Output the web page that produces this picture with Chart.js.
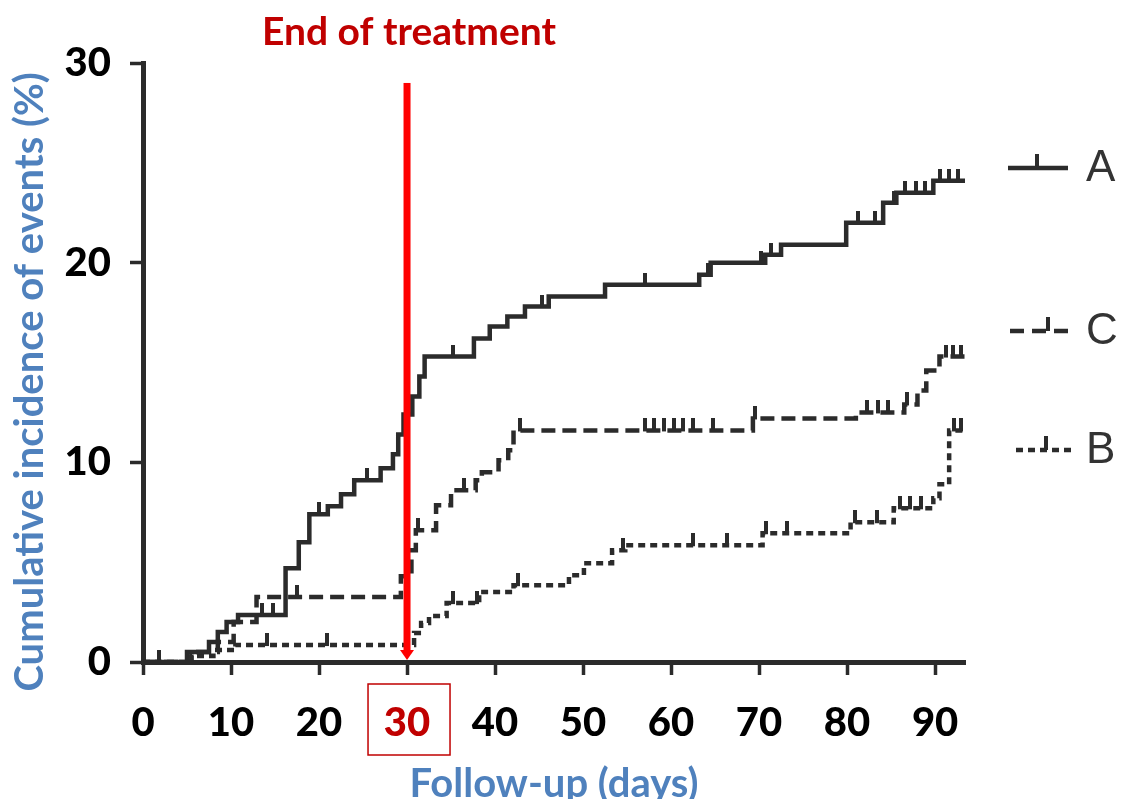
<!DOCTYPE html>
<html>
<head>
<meta charset="utf-8">
<script src="https://cdn.jsdelivr.net/npm/chart.js@4.4.1/dist/chart.umd.min.js"></script>
<style>
  html, body { margin: 0; padding: 0; background: #fff; }
  #myChart { display: block; }
</style>
</head>
<body>
<canvas id="myChart" width="1122" height="799"></canvas>
<script>
// Curva A (step: valor desde ese dia)
const aDays   = [0, 5.0, 7.5, 8.5, 9.5, 10.8, 16.2, 17.7, 18.9, 21.0, 22.5, 24.0, 27.0, 28.4, 29.0, 29.6, 30.6, 31.4, 32.0, 37.6, 39.4, 41.4, 43.4, 46.1, 52.5, 63.2, 64.5, 70.7, 72.5, 79.9, 84.1, 85.6, 89.8, 93.4];
const aValues = [0, 0.5, 1.0, 1.5, 2.0, 2.35, 4.7, 6.0, 7.4, 7.8, 8.4, 9.1, 9.7, 10.4, 11.4, 12.4, 13.3, 14.3, 15.3, 16.2, 16.8, 17.3, 17.8, 18.3, 18.9, 19.4, 20.0, 20.4, 20.9, 22.0, 23.0, 23.5, 24.1, 24.1];
const aCensored = [13.5, 14.8, 20.0, 25.5, 35.2, 45.3, 57.0, 64.2, 70.2, 71.3, 81.2, 83.2, 85.3, 86.6, 87.8, 88.9, 90.6, 91.6, 92.6];

// Curva C
const cDays   = [0, 5.5, 8.5, 10.3, 12.9, 29.3, 30.5, 31.0, 33.3, 35.0, 37.8, 38.5, 40.4, 41.5, 42.1, 69.3, 81.0, 86.5, 88.0, 89.0, 90.5, 93.4];
const cValues = [0, 0.5, 1.0, 2.0, 3.25, 4.3, 5.6, 6.6, 7.85, 8.6, 9.1, 9.5, 10.1, 10.6, 11.6, 12.2, 12.5, 12.9, 13.6, 14.6, 15.3, 15.3];
const cCensored = [17.5, 31.2, 36.5, 42.8, 57.0, 58.1, 59.2, 60.3, 61.4, 62.5, 64.8, 69.5, 82.3, 83.5, 84.6, 86.8, 91.2, 92.0, 93.0];

// Curva B
const bDays   = [0, 5.5, 8.0, 10.5, 30.8, 31.6, 32.5, 34.5, 38.2, 42.1, 48.4, 50.1, 53.3, 54.8, 70.4, 80.4, 85.3, 89.8, 90.5, 91.6, 93.4];
const bValues = [0, 0.3, 0.6, 0.85, 1.45, 1.95, 2.3, 2.95, 3.5, 3.85, 4.35, 4.95, 5.6, 5.85, 6.45, 7.0, 7.7, 8.2, 8.9, 11.6, 11.6];
const bCensored = [1.8, 14.1, 20.9, 35.2, 38.0, 42.6, 54.5, 62.5, 66.4, 70.8, 73.2, 80.9, 83.4, 86.0, 87.1, 88.4, 92.1, 92.9];

const xTicks = [0, 10, 20, 30, 40, 50, 60, 70, 80, 90];
const yTicks = [0, 10, 20, 30];
const treatmentEndDay = 30;
const seriesLabels = ['A', 'C', 'B'];

const ink = '#2b2b2b';
const fontMain = 'Lato, "Open Sans", sans-serif';

function points(days, values) {
  return days.map((d, i) => ({ x: d, y: values[i] }));
}

function valueAt(days, values, t) {
  let v = values[0];
  for (let i = 0; i < days.length; i++) {
    if (days[i] <= t) v = values[i];
  }
  return v;
}

function censorPoints(list, days, values) {
  return list.map(t => ({ x: t, y: valueAt(days, values, t) }));
}

// marca de censura: palito vertical hacia arriba
function censorTick() {
  const c = document.createElement('canvas');
  c.width = 4;
  c.height = 24;
  const g = c.getContext('2d');
  g.fillStyle = ink;
  g.fillRect(0, 0, 4, 13);
  return c;
}
const tick = censorTick();

function stepLine(data, dash) {
  return {
    data: data,
    stepped: true,
    borderColor: ink,
    borderWidth: 4.5,
    borderDash: dash,
    borderCapStyle: 'butt',
    pointRadius: 0,
    fill: false
  };
}

function censorSet(data) {
  return {
    data: data,
    showLine: false,
    pointStyle: tick,
    pointRadius: 6,
    borderColor: ink,
    backgroundColor: ink
  };
}

// anotaciones: linea roja, texto, recuadro y leyenda
const extras = {
  id: 'extras',
  afterDatasetsDraw(chart) {
    const { ctx, scales: { x, y } } = chart;
    const px = x.getPixelForValue(treatmentEndDay);
    const top = y.getPixelForValue(29.0);
    const bottom = y.getPixelForValue(0);
    ctx.save();
    ctx.fillStyle = '#ff0000';
    ctx.fillRect(px - 3.5, top, 7, bottom - top - 10);
    ctx.beginPath();
    ctx.moveTo(px - 7, bottom - 12);
    ctx.lineTo(px + 7, bottom - 12);
    ctx.lineTo(px, bottom - 2);
    ctx.closePath();
    ctx.fill();

    ctx.fillStyle = '#c00000';
    ctx.font = 'bold 39px ' + fontMain;
    ctx.textAlign = 'center';
    ctx.textBaseline = 'alphabetic';
    ctx.fillText('End of treatment', px + 2, 45);

    // recuadro del 30
    ctx.strokeStyle = '#c00000';
    ctx.lineWidth = 1.5;
    ctx.strokeRect(px - 39, 684, 82, 71);

    // leyenda
    const rows = [
      { y: 168, dash: [], tickAt: 29, x0: 1008, x1: 1068 },
      { y: 331, dash: [14, 8], tickAt: 38, x0: 1010, x1: 1070 },
      { y: 450, dash: [7, 5], tickAt: 30, x0: 1016, x1: 1072 }
    ];
    ctx.strokeStyle = ink;
    ctx.fillStyle = ink;
    ctx.lineWidth = 4.5;
    rows.forEach((r, i) => {
      ctx.setLineDash(r.dash);
      ctx.beginPath();
      ctx.moveTo(r.x0, r.y);
      ctx.lineTo(r.x1, r.y);
      ctx.stroke();
      ctx.setLineDash([]);
      ctx.fillRect(r.x0 + r.tickAt - 2, r.y - 14, 4, 14);
      ctx.fillStyle = '#333';
      ctx.font = '44px "Liberation Sans", Arial, sans-serif';
      ctx.textAlign = 'left';
      ctx.textBaseline = 'middle';
      ctx.fillText(seriesLabels[i], 1086, r.y + 1);
      ctx.fillStyle = ink;
    });
    ctx.restore();
  }
};

const ctx = document.getElementById('myChart');
new Chart(ctx, {
  type: 'line',
  data: {
    datasets: [
      stepLine(points(aDays, aValues), []),
      stepLine(points(cDays, cValues), [14, 7]),
      stepLine(points(bDays, bValues), [7, 5]),
      censorSet(censorPoints(aCensored, aDays, aValues)),
      censorSet(censorPoints(cCensored, cDays, cValues)),
      censorSet(censorPoints(bCensored, bDays, bValues))
    ]
  },
  options: {
    responsive: false,
    animation: false,
    devicePixelRatio: 1,
    layout: { padding: { top: 63, right: 157, bottom: 0, left: 0 } },
    plugins: {
      legend: { display: false },
      tooltip: { enabled: false }
    },
    scales: {
      x: {
        type: 'linear',
        min: 0,
        max: 93.4,
        border: { display: true, width: 5, color: ink },
        grid: { display: true, drawOnChartArea: false, drawTicks: true, tickLength: 13, tickWidth: 3.5, tickColor: ink },
        ticks: {
          autoSkip: false,
          maxRotation: 0,
          padding: 24,
          font: { family: fontMain, size: 40, weight: '900' },
          color: c => c.tick.value === treatmentEndDay ? '#c00000' : '#000'
        },
        afterBuildTicks: s => { s.ticks = xTicks.map(v => ({ value: v })); },
        afterFit: s => { s.height = 137; },
        title: {
          display: true,
          text: 'Follow-up (days)',
          color: '#4f81bd',
          font: { family: fontMain, size: 40, weight: 'bold', lineHeight: 1 },
          padding: { top: 0, bottom: -5 }
        }
      },
      y: {
        type: 'linear',
        min: 0,
        max: 30,
        border: { display: true, width: 5, color: ink },
        grid: { display: true, drawOnChartArea: false, drawTicks: true, tickLength: 13, tickWidth: 3.5, tickColor: ink },
        ticks: {
          padding: 19,
          font: { family: fontMain, size: 40, weight: '900' },
          color: '#000'
        },
        afterBuildTicks: s => { s.ticks = yTicks.map(v => ({ value: v })); },
        afterFit: s => { s.width = 143; },
        title: {
          display: true,
          text: 'Cumulative incidence of events (%)    ',
          color: '#4f81bd',
          font: { family: fontMain, size: 40, weight: 'bold', lineHeight: 1 },
          padding: { top: 10, bottom: 0 }
        }
      }
    }
  },
  plugins: [extras]
});
</script>
</body>
</html>
